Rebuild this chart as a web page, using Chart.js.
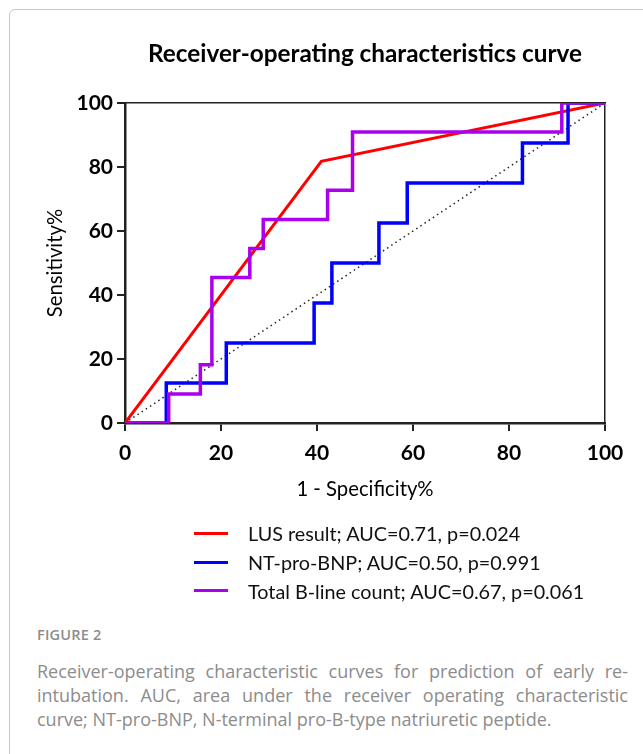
<!DOCTYPE html>
<html>
<head>
<meta charset="utf-8">
<script src="https://cdn.jsdelivr.net/npm/chart.js@4.4.1/dist/chart.umd.min.js"></script>
<style>
  html, body { margin: 0; padding: 0; background: #fff; }
  body { width: 643px; height: 754px; position: relative; overflow: hidden; font-family: Lato, "Open Sans", sans-serif; }
  #frame { position: absolute; left: 9px; top: 9px; width: 700px; height: 800px; border: 1px solid #c8c8c8; border-radius: 6px; box-sizing: border-box; }
  #title { position: absolute; left: 0; width: 730px; top: 38px; text-align: center; font: bold 24.3px Lato, sans-serif; color: #000; }
  #chartBox { position: absolute; left: 0; top: 0; width: 643px; height: 520px; }
  #legend { position: absolute; left: 194px; top: 519px; font: 19.8px Lato, sans-serif; color: #111; }
  .lg { height: 28.7px; display: flex; align-items: center; }
  .sw { width: 34px; height: 3px; margin-right: 20px; }
  #caption { position: absolute; left: 37px; top: 624px; width: 591px; font-family: "Open Sans", sans-serif; color: #8c8c8c; }
  #figno { font-size: 14.5px; font-weight: 600; letter-spacing: 0.2px; height: 35px; line-height: 22px; }
  .cl { font-size: 18px; line-height: 24px; height: 24px; text-align: justify; text-align-last: justify; white-space: nowrap; }
  .cl.last { text-align-last: left; }
</style>
</head>
<body>
<div id="frame"></div>
<div id="chartBox"><canvas id="c"></canvas></div>
<div id="title">Receiver-operating characteristics curve</div>
<div id="legend"></div>
<div id="caption">
  <div id="figno">FIGURE 2</div>
  <div class="cl">Receiver-operating characteristic curves for prediction of early re-</div>
  <div class="cl">intubation. AUC, area under the receiver operating characteristic</div>
  <div class="cl last">curve; NT-pro-BNP, N-terminal pro-B-type natriuretic peptide.</div>
</div>
<script>
// ---- data (x = 100 - specificity %, y = sensitivity %) ----
const seriesNames = [
  "LUS result; AUC=0.71, p=0.024",
  "NT-pro-BNP; AUC=0.50, p=0.991",
  "Total B-line count; AUC=0.67, p=0.061"
];
const lusX = [0, 40.9, 100];
const lusY = [0, 81.8, 100];
const bnpX = [0, 8.6, 21.1, 39.4, 43.1, 52.9, 58.8, 82.8, 92.3, 100];
const bnpY = [0, 12.5, 25.0, 37.5, 50.0, 62.5, 75.0, 87.5, 100, 100];
const blcX = [0, 9.1, 15.7, 18.1, 26.0, 28.8, 42.2, 47.4, 91.0, 100];
const blcY = [0, 9.1, 18.2, 45.5, 54.5, 63.6, 72.7, 90.9, 100, 100];
const refX = [0, 100];
const refY = [0, 100];
const tickValues = [0, 20, 40, 60, 80, 100];
const xTitle = "1 - Specificity%";
const yTitle = "Sensitivity%";

const colors = ["#ff0000", "#0000ff", "#aa00ee"];

const pts = (xs, ys) => xs.map((x, i) => ({ x: x, y: ys[i] }));

const tickFont = { family: "Lato", weight: "bold", size: 21 };
const titleFont = { family: "Lato", size: 20.3 };

new Chart(document.getElementById("c"), {
  type: "scatter",
  data: {
    datasets: [
      { label: "ref", data: pts(refX, refY), showLine: true, borderColor: "#222", borderWidth: 1.5,
        borderDash: [1.5, 3.5], pointRadius: 0, order: 4 },
      { label: seriesNames[0], data: pts(lusX, lusY), showLine: true, borderColor: colors[0],
        borderWidth: 3, pointRadius: 0, order: 3 },
      { label: seriesNames[1], data: pts(bnpX, bnpY), showLine: true, stepped: "before",
        borderColor: colors[1], borderWidth: 3.5, pointRadius: 0, order: 2 },
      { label: seriesNames[2], data: pts(blcX, blcY), showLine: true, stepped: "before",
        borderColor: colors[2], borderWidth: 3.5, pointRadius: 0, order: 1 }
    ]
  },
  options: {
    responsive: true,
    maintainAspectRatio: false,
    animation: false,
    layout: { padding: { top: 103, right: 38, left: 0, bottom: 0 } },
    plugins: { legend: { display: false }, tooltip: { enabled: false } },
    scales: {
      x: {
        type: "linear", min: 0, max: 100,
        afterFit: s => { s.height = 97; },
        afterBuildTicks: s => { s.ticks = tickValues.map(v => ({ value: v })); },
        grid: { drawOnChartArea: false, drawTicks: true, tickLength: 8, color: "#222", lineWidth: 2 },
        border: { display: true, color: "#222", width: 2.5 },
        ticks: { font: tickFont, color: "#000", padding: 10, maxRotation: 0 },
        title: { display: true, text: xTitle, font: titleFont, color: "#000", padding: { top: 0, bottom: 18 } }
      },
      y: {
        type: "linear", min: 0, max: 100,
        afterFit: s => { s.width = 125; },
        afterBuildTicks: s => { s.ticks = tickValues.map(v => ({ value: v })); },
        grid: { drawOnChartArea: false, drawTicks: true, tickLength: 8, color: "#222", lineWidth: 2 },
        border: { display: true, color: "#222", width: 2.5 },
        ticks: { font: tickFont, color: "#000", padding: 4 },
        title: { display: true, text: yTitle, font: titleFont, color: "#000", padding: { top: 43, bottom: 0 } }
      },
      xTop: {
        type: "linear", position: "top", min: 0, max: 100,
        afterFit: s => { s.height = 0; },
        grid: { display: false, drawTicks: false },
        border: { display: true, color: "#222", width: 1.5 },
        ticks: { display: false }
      },
      yRight: {
        type: "linear", position: "right", min: 0, max: 100,
        afterFit: s => { s.width = 0; },
        grid: { display: false, drawTicks: false },
        border: { display: true, color: "#222", width: 1.5 },
        ticks: { display: false }
      }
    }
  }
});

// HTML legend built from series names/colours
const lg = document.getElementById("legend");
seriesNames.forEach((n, i) => {
  const row = document.createElement("div");
  row.className = "lg";
  const sw = document.createElement("div");
  sw.className = "sw";
  sw.style.background = colors[i];
  const tx = document.createElement("span");
  tx.textContent = n;
  row.appendChild(sw);
  row.appendChild(tx);
  lg.appendChild(row);
});
</script>
</body>
</html>
